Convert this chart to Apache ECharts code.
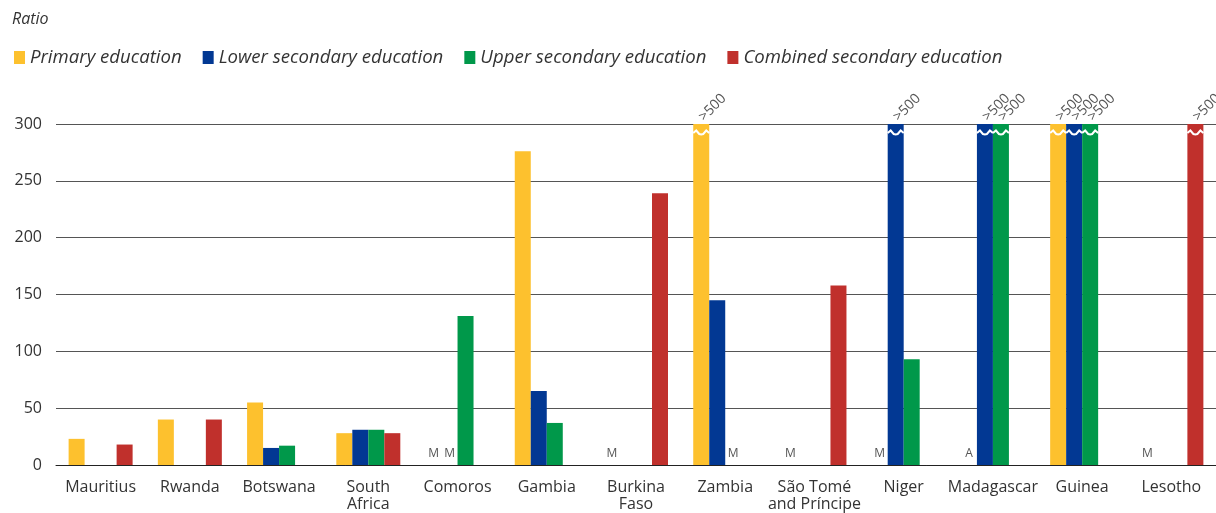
<!DOCTYPE html>
<html><head><meta charset="utf-8">
<script src="https://cdn.jsdelivr.net/npm/echarts@6/dist/echarts.min.js"></script>
<style>html,body{margin:0;padding:0;background:#fff;overflow:hidden}#c{width:1216px;height:513px}</style>
</head><body><div id="c"></div>
<script>
const categories = ['Mauritius','Rwanda','Botswana','South\nAfrica','Comoros','Gambia','Burkina\nFaso','Zambia','São Tomé\nand Príncipe','Niger','Madagascar','Guinea','Lesotho'];
const seriesNames = ['Primary education','Lower secondary education','Upper secondary education','Combined secondary education'];
const colors = ['#FDC12E','#023893','#00984A','#C0302C'];
// 'M' = missing, 'A' = not applicable, '>500' = value beyond axis
const primary  = [23, 40, 55, 28, 'M', 276, 'M', '>500', 'M', 'M', 'A', '>500', 'M'];
const lower    = [null, null, 15, 31, 'M', 65, null, 145, null, '>500', '>500', '>500', null];
const upper    = [null, null, 17, 31, 131, 37, null, 'M', null, 93, '>500', '>500', null];
const combined = [18, 40, null, 28, null, null, 239, null, 158, null, null, null, '>500'];
const yTicks = [0, 50, 100, 150, 200, 250, 300];
const axisMax = 300;

const allSeries = [primary, lower, upper, combined];
const FONT = 'Open Sans';
const BW = 16;

function buildData(arr) {
  return arr.map(v => {
    if (v === null) return null;
    if (v === 'M' || v === 'A') {
      return { value: 0, label: { show: true, formatter: v, position: 'top', distance: 5, fontSize: 12, color: '#555', fontFamily: FONT } };
    }
    if (v === '>500') {
      return { value: axisMax, label: { show: true, formatter: '>500', position: 'top', distance: 5, rotate: 45, align: 'left', verticalAlign: 'middle', fontSize: 14, color: '#555', fontFamily: FONT } };
    }
    return v;
  });
}

const breakData = [];
allSeries.forEach((arr, si) => arr.forEach((v, ci) => { if (v === '>500') breakData.push([ci, si]); }));

const series = allSeries.map((arr, i) => ({
  name: seriesNames[i], type: 'bar', data: buildData(arr),
  barWidth: BW, barGap: '0%', itemStyle: { color: colors[i] },
  label: { show: false }
}));

series.push({
  type: 'custom', silent: true, z: 10,
  data: breakData,
  renderItem: function (params, api) {
    const ci = api.value(0), si = api.value(1);
    const p = api.coord([ci, axisMax]);
    const x0 = p[0] - 2 * BW + si * BW;
    const y = p[1] + 8;
    const pts = [[x0, y + 1], [x0 + 3, y - 1.5], [x0 + 6, y + 2], [x0 + 8, y + 2.5], [x0 + 10, y + 2], [x0 + 13, y - 1.5], [x0 + 16, y + 1]];
    return { type: 'polyline', shape: { points: pts }, style: { stroke: '#fff', lineWidth: 2, fill: null } };
  }
});

const chart = echarts.init(document.getElementById('c'));
chart.setOption({
  animation: false,
  textStyle: { fontFamily: FONT },
  title: { text: 'Ratio', left: 7, top: 6, textStyle: { fontSize: 16, fontStyle: 'italic', fontWeight: 'normal', color: '#333', fontFamily: FONT } },
  legend: {
    data: seriesNames, left: 9, top: 43, icon: 'rect', itemWidth: 11, itemHeight: 13, itemGap: 21,
    textStyle: { fontSize: 18.6, fontStyle: 'italic', color: '#333', fontFamily: FONT }
  },
  grid: { left: 56, top: 124, width: 1162, height: 343, containLabel: false },
  xAxis: {
    type: 'category', data: categories,
    axisTick: { show: false },
    axisLine: { lineStyle: { color: '#222', width: 1 } },
    axisLabel: { fontSize: 16, color: '#333', margin: 14, lineHeight: 17, interval: 0, fontFamily: FONT }
  },
  yAxis: {
    type: 'value', min: 0, max: axisMax, interval: 50,
    axisLabel: { fontSize: 16, color: '#333', margin: 14, fontFamily: FONT, formatter: v => yTicks.includes(v) ? String(v) : '' },
    splitLine: { lineStyle: { color: '#555', width: 1 } },
    axisLine: { show: false }, axisTick: { show: false }
  },
  series: series
});
</script>
</body></html>
